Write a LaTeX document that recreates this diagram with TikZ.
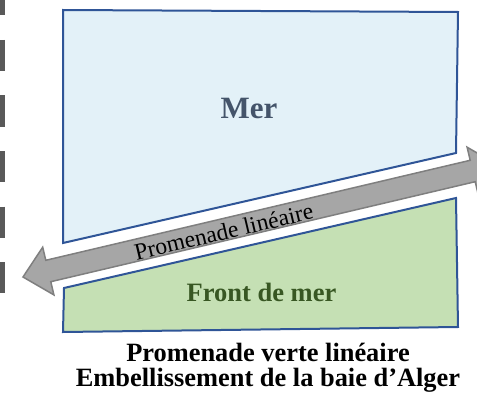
\documentclass[tikz,border=0pt]{standalone}
\usepackage{fontspec}
\setmainfont{Liberation Serif}
\definecolor{seafill}{HTML}{E3F1F8}
\definecolor{landfill}{HTML}{C5E0B4}
\definecolor{edgeblue}{HTML}{2F5597}
\definecolor{mertext}{HTML}{44546A}
\definecolor{fronttext}{HTML}{385723}
\definecolor{arrowfill}{HTML}{A6A6A6}
\definecolor{arrowedge}{HTML}{7F7F7F}
\definecolor{dashgray}{HTML}{595959}
\tikzset{
  zone/.style={draw=edgeblue, line width=2pt, line join=miter},
  caption/.style={font=\bfseries\fontsize{26.4}{26.4}\selectfont, anchor=base, inner sep=0pt},
}
\begin{document}
\begin{tikzpicture}[x=1pt,y=-1pt]
\clip (0,0) rectangle (477,396);
\useasboundingbox (0,0) rectangle (477,396);
% dashed boundary
\draw[dashgray, line width=5pt, dash pattern=on 31pt off 24.5pt] (2.5,-15.5) -- (2.5,296);
% sea
\filldraw[zone, fill=seafill] (63,10) -- (458,12) -- (456,153) -- (63,243) -- cycle;
% waterfront
\filldraw[zone, fill=landfill] (64,288) -- (456,198) -- (458,327) -- (63,332) -- cycle;
% double arrow
\coordinate (lt) at (23,277);
\coordinate (rt) at (498,165);
\filldraw[fill=arrowfill, draw=arrowedge, line width=1.5pt, line join=miter]
  (lt) -- (42.7,247.2) -- (45.8,260.3) -- (470.2,160.3) -- (467.1,147.2) -- (rt)
  -- (478.3,194.8) -- (475.2,181.7) -- (50.8,281.7) -- (53.9,294.9) -- cycle;
\node[anchor=base, inner sep=0pt, rotate=13.27, font=\fontsize{23.6}{23.6}\selectfont]
  (prom) at (225.5,239.5) {Promenade linéaire};
% labels
\node[anchor=base, inner sep=0pt, text=mertext, font=\bfseries\fontsize{31}{31}\selectfont]
  (mer) at (249,118) {Mer};
\node[anchor=base, inner sep=0pt, text=fronttext, font=\bfseries\fontsize{26.5}{26.5}\selectfont]
  (front) at (261.5,301) {Front de mer};
\node[caption] (cap1) at (268,361) {Promenade verte linéaire};
\node[caption] (cap2) at (268,386) {Embellissement de la baie d’Alger};
\end{tikzpicture}
\end{document}
